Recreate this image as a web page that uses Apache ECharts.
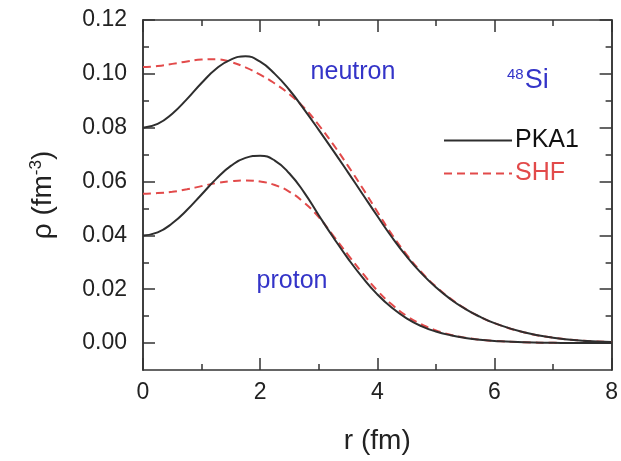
<!DOCTYPE html>
<html>
<head>
<meta charset="utf-8">
<script src="https://cdn.jsdelivr.net/npm/echarts@6/dist/echarts.min.js"></script>
<style>
  html, body { margin: 0; padding: 0; background: #ffffff; }
  #chart { width: 621px; height: 461px; }
</style>
</head>
<body>
<div id="chart"></div>
<script>
// Radial grid r (fm)
const radius = [0, 0.25, 0.5, 0.75, 1, 1.25, 1.5, 1.75, 2, 2.25, 2.5, 2.75, 3, 3.25, 3.5,
                3.75, 4, 4.25, 4.5, 4.75, 5, 5.25, 5.5, 5.75, 6, 6.5, 7, 7.5, 8];

// Densities rho (fm^-3) of 48Si
const neutronPKA1 = [0.0800, 0.0814, 0.0852, 0.0906, 0.0966, 0.1019, 0.1053, 0.1065, 0.1045, 0.1000,
                     0.0940, 0.0868, 0.0792, 0.0714, 0.0634, 0.0553, 0.0472, 0.0393, 0.0322, 0.0260,
                     0.0207, 0.0163, 0.0127, 0.0098, 0.0074, 0.0040, 0.0020, 0.0009, 0.0004];
const neutronSHF  = [0.1025, 0.1029, 0.1037, 0.1046, 0.1053, 0.1054, 0.1044, 0.1024, 0.0997, 0.0964,
                     0.0924, 0.0874, 0.0810, 0.0737, 0.0658, 0.0575, 0.0488, 0.0403, 0.0329, 0.0264,
                     0.0210, 0.0165, 0.0128, 0.0098, 0.0074, 0.0040, 0.0020, 0.0009, 0.0004];
const protonPKA1  = [0.0400, 0.0411, 0.0445, 0.0494, 0.0552, 0.0610, 0.0658, 0.0688, 0.0696, 0.0678,
                     0.0630, 0.0560, 0.0475, 0.0392, 0.0314, 0.0243, 0.0181, 0.0131, 0.0092, 0.0063,
                     0.0043, 0.0029, 0.0019, 0.0012, 0.0008, 0.0003, 0.0001, 0.0000, 0.0000];
const protonSHF   = [0.0555, 0.0557, 0.0562, 0.0571, 0.0583, 0.0594, 0.0601, 0.0604, 0.0600, 0.0587,
                     0.0562, 0.0522, 0.0468, 0.0398, 0.0328, 0.0259, 0.0195, 0.0143, 0.0101, 0.0070,
                     0.0047, 0.0031, 0.0020, 0.0013, 0.0008, 0.0003, 0.0001, 0.0000, 0.0000];

// Axis ticks
const yMajorTicks = [0, 0.02, 0.04, 0.06, 0.08, 0.10, 0.12];
const yMinorTicks = [0.01, 0.03, 0.05, 0.07, 0.09, 0.11];
const xTickLabels = ['0', '2', '4', '6', '8'];

const FONT = '"Liberation Sans", Arial, Helvetica, sans-serif';
const AXIS_COLOR = '#333333';
const PKA1_COLOR = '#2e2e2e';
const SHF_COLOR = '#e24a4a';
const LABEL_BLUE = '#3434c8';

const pairs = (vals) => radius.map((r, i) => [r, vals[i]]);

const chart = echarts.init(document.getElementById('chart'), null, { renderer: 'canvas' });

const frameLine = { show: true, onZero: false, lineStyle: { color: AXIS_COLOR, width: 1.5 } };

function yAxisDef(position, ticks, len, withLabels, withName) {
  const ax = {
    type: 'value',
    position: position,
    min: -0.01,
    max: 0.12,
    axisLine: frameLine,
    splitLine: { show: false },
    axisTick: { show: true, inside: true, length: len, customValues: ticks,
                lineStyle: { color: AXIS_COLOR, width: 1.5 } },
    axisLabel: withLabels
      ? { show: true, customValues: ticks, margin: 16, fontSize: 23, fontFamily: FONT, color: '#222',
          formatter: (v) => v.toFixed(2) }
      : { show: false }
  };
  if (withName) {
    ax.name = '{a|ρ (fm}{s|-3}{a|)}';
    ax.nameLocation = 'middle';
    ax.nameGap = 84;
    ax.nameTextStyle = {
      fontFamily: FONT, color: '#222',
      rich: {
        a: { fontSize: 28, fontFamily: FONT, color: '#222' },
        s: { fontSize: 17, fontFamily: FONT, color: '#222', verticalAlign: 'top', padding: [0, 0, 14, 0] }
      }
    };
  }
  return ax;
}

function xAxisDef(position, withLabels) {
  return {
    type: 'value',
    position: position,
    min: 0,
    max: 8,
    interval: 2,
    axisLine: frameLine,
    splitLine: { show: false },
    axisTick: { show: true, inside: true, length: 12, lineStyle: { color: AXIS_COLOR, width: 1.5 } },
    minorTick: { show: true, splitNumber: 2, length: 6, lineStyle: { color: AXIS_COLOR, width: 1.5 } },
    minorSplitLine: { show: false },
    axisLabel: withLabels
      ? { show: true, margin: 11, fontSize: 23, fontFamily: FONT, color: '#222',
          formatter: (v) => xTickLabels[Math.round(v / 2)] }
      : { show: false },
    name: withLabels ? 'r (fm)' : '',
    nameLocation: 'middle',
    nameGap: 57,
    nameTextStyle: { fontSize: 28, fontFamily: FONT, color: '#222' }
  };
}

function lineSeries(name, vals, color, dashed, z) {
  return {
    type: 'line',
    name: name,
    data: pairs(vals),
    smooth: 0.5,
    showSymbol: false,
    symbol: 'none',
    xAxisIndex: 0,
    yAxisIndex: 0,
    z: z,
    lineStyle: { color: color, width: 2, type: dashed ? [8, 5] : 'solid' },
    itemStyle: { color: color, opacity: 0 }
  };
}

const option = {
  animation: false,
  backgroundColor: '#ffffff',
  grid: { left: 143, right: 4, top: 20, bottom: 91, containLabel: false },
  xAxis: [xAxisDef('bottom', true), xAxisDef('top', false)],
  yAxis: [
    yAxisDef('left', yMajorTicks, 12, true, true),
    yAxisDef('left', yMinorTicks, 6, false, false),
    yAxisDef('right', yMajorTicks, 12, false, false),
    yAxisDef('right', yMinorTicks, 6, false, false)
  ],
  legend: {
    orient: 'vertical',
    left: 438,
    top: 123,
    itemWidth: 68,
    itemHeight: 12,
    itemGap: 8,
    itemStyle: { opacity: 0 },
    textStyle: { fontSize: 25, fontFamily: FONT, padding: [0, 0, 0, -2] },
    data: [
      { name: 'PKA1', textStyle: { color: '#111' } },
      { name: 'SHF', textStyle: { color: SHF_COLOR } }
    ]
  },
  series: [
    lineSeries('SHF', neutronSHF, SHF_COLOR, true, 2),
    lineSeries('SHF', protonSHF, SHF_COLOR, true, 2),
    lineSeries('PKA1', neutronPKA1, PKA1_COLOR, false, 3),
    lineSeries('PKA1', protonPKA1, PKA1_COLOR, false, 3)
  ],
  graphic: [
    { type: 'text', x: 353, y: 72, style: { text: 'neutron', fill: LABEL_BLUE, font: '25px ' + FONT,
        textAlign: 'center', textVerticalAlign: 'middle' } },
    { type: 'text', x: 292, y: 281, style: { text: 'proton', fill: LABEL_BLUE, font: '25px ' + FONT,
        textAlign: 'center', textVerticalAlign: 'middle' } },
    { type: 'text', x: 507, y: 81, style: {
        text: '{m|48}{e|Si}', textVerticalAlign: 'middle',
        rich: {
          m: { fontSize: 15, fontFamily: FONT, fill: LABEL_BLUE, verticalAlign: 'top', padding: [0, 1, 12, 0] },
          e: { fontSize: 27, fontFamily: FONT, fill: LABEL_BLUE }
        } } }
  ]
};

chart.setOption(option);
</script>
</body>
</html>
